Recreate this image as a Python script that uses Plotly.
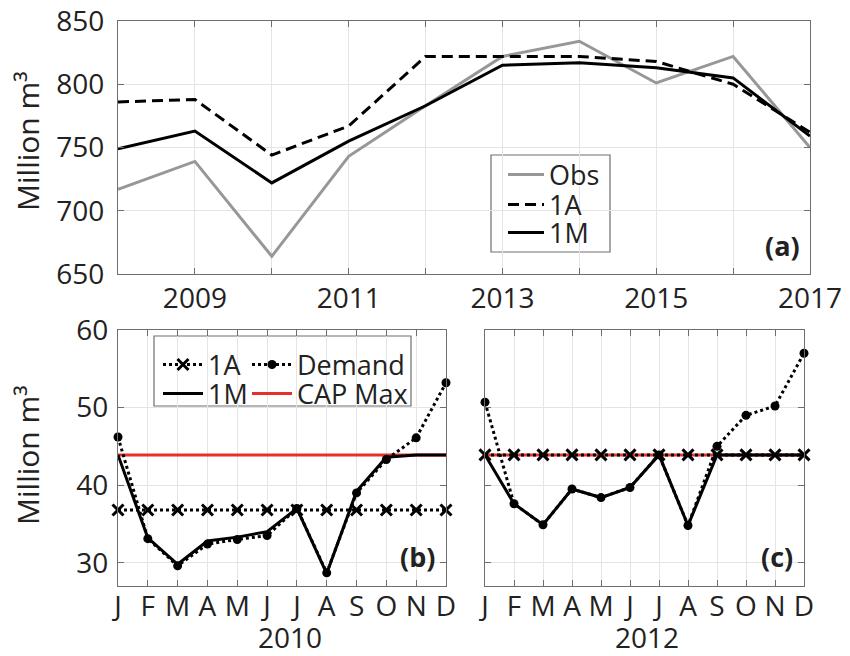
import plotly.graph_objects as go

# ---- annual storage, panel (a) ----
years = [2008, 2009, 2010, 2011, 2012, 2013, 2014, 2015, 2016, 2017]
year_labels = ["", "2009", "", "2011", "", "2013", "", "2015", "", "2017"]
obs = [717, 739, 664, 743, 783, 822, 834, 801, 822, 750]
sim_1a = [786, 788, 744, 767, 822, 822, 822, 818, 800, 762]
sim_1m = [749, 763, 722, 755, 783, 815, 817, 813, 805, 759]

# ---- monthly allocations, panels (b) 2010 and (c) 2012 ----
months = [1, 2, 3, 4, 5, 6, 7, 8, 9, 10, 11, 12]
month_labels = ["J", "F", "M", "A", "M", "J", "J", "A", "S", "O", "N", "D"]

demand_2010 = [46.2, 33.1, 29.6, 32.4, 33.0, 33.5, 37.0, 28.7, 39.0, 43.3, 46.1, 53.2]
m1_2010 = [43.9, 33.2, 29.8, 32.8, 33.3, 34.0, 37.0, 28.6, 39.2, 43.6, 43.9, 43.9]
a1_2010 = [36.8, 36.8, 36.8, 36.8, 36.8, 36.8, 36.8, 36.8, 36.8, 36.8, 36.8, 36.8]

demand_2012 = [50.7, 37.6, 34.9, 39.5, 38.4, 39.7, 43.9, 34.8, 45.0, 49.0, 50.2, 57.0]
m1_2012 = [43.9, 37.6, 34.9, 39.5, 38.4, 39.7, 43.9, 34.8, 43.9, 43.9, 43.9, 43.9]
a1_2012 = [43.9, 43.9, 43.9, 43.9, 43.9, 43.9, 43.9, 43.9, 43.9, 43.9, 43.9, 43.9]

cap_max = [43.9, 43.9, 43.9, 43.9, 43.9, 43.9, 43.9, 43.9, 43.9, 43.9, 43.9, 43.9]

W, H = 850, 656
FONT = "Open Sans"
TXT = "#222222"
AX = "#6e6e6e"
GRID = "#e4e4e4"
GRAY = "#979797"
RED = "#e8302a"


def px(x):
    return x / W


def py(y):
    return 1 - y / H


fig = go.Figure()

# panel (a)
fig.add_trace(go.Scatter(x=years, y=obs, name="Obs", mode="lines",
                         line=dict(color=GRAY, width=3), legend="legend",
                         xaxis="x", yaxis="y"))
fig.add_trace(go.Scatter(x=years, y=sim_1a, name="1A", mode="lines",
                         line=dict(color="black", width=3, dash="11px,6px"),
                         legend="legend2", xaxis="x", yaxis="y"))
fig.add_trace(go.Scatter(x=years, y=sim_1m, name="1M", mode="lines",
                         line=dict(color="black", width=3), legend="legend3",
                         xaxis="x", yaxis="y"))

# panels (b) and (c)
for xa, ya, dem, m1, a1, show in [("x2", "y2", demand_2010, m1_2010, a1_2010, True),
                                  ("x3", "y3", demand_2012, m1_2012, a1_2012, False)]:
    fig.add_trace(go.Scatter(x=months, y=cap_max, name="CAP Max", mode="lines",
                             line=dict(color=RED, width=3), legend="legend7",
                             showlegend=show, xaxis=xa, yaxis=ya))
    fig.add_trace(go.Scatter(x=months, y=dem, name="Demand", mode="lines+markers",
                             line=dict(color="black", width=3, dash="dot"),
                             marker=dict(symbol="circle", size=9, color="black"),
                             legend="legend5", showlegend=show,
                             cliponaxis=False, xaxis=xa, yaxis=ya))
    fig.add_trace(go.Scatter(x=months, y=m1, name="1M", mode="lines",
                             line=dict(color="black", width=3), legend="legend6",
                             showlegend=show, xaxis=xa, yaxis=ya))
    fig.add_trace(go.Scatter(x=months, y=a1, name="1A", mode="lines+markers",
                             line=dict(color="black", width=3, dash="dot"),
                             marker=dict(symbol="x-thin", size=11,
                                         line=dict(color="black", width=3)),
                             legend="legend4", showlegend=show,
                             cliponaxis=False, xaxis=xa, yaxis=ya))

axis_common = dict(showline=True, linecolor=AX, linewidth=1.2, mirror="ticks",
                   ticks="inside", ticklen=6, tickcolor=AX, tickwidth=1,
                   showgrid=True, gridcolor=GRID, gridwidth=1, zeroline=False,
                   automargin=False,
                   tickfont=dict(family=FONT, size=28, color=TXT))

dom_a_x = [px(118), px(810)]
dom_a_y = [py(274), py(21)]
dom_b_x = [px(118), px(446)]
dom_c_x = [px(485), px(804)]
dom_bc_y = [py(586), py(330)]

fig.update_layout(
    width=W, height=H,
    margin=dict(l=0, r=0, t=0, b=0, pad=0, autoexpand=False),
    paper_bgcolor="white", plot_bgcolor="white",
    showlegend=True,
    font=dict(family=FONT, size=27, color=TXT),
    xaxis=dict(axis_common, domain=dom_a_x, range=[2008, 2017],
               tickvals=years, ticktext=year_labels, anchor="y",
               ticklabelstandoff=-1),
    yaxis=dict(axis_common, domain=dom_a_y, range=[650, 850],
               tickvals=[650, 700, 750, 800, 850], anchor="x",
               ticklabelstandoff=7),
    xaxis2=dict(axis_common, domain=dom_b_x, range=[1, 12],
                tickvals=months, ticktext=month_labels, anchor="y2",
                ticklabelstandoff=-5),
    yaxis2=dict(axis_common, domain=dom_bc_y, range=[27, 60],
                tickvals=[30, 40, 50, 60], anchor="x2", ticklabelstandoff=3),
    xaxis3=dict(axis_common, domain=dom_c_x, range=[1, 12],
                tickvals=months, ticktext=month_labels, anchor="y3",
                ticklabelstandoff=-5),
    yaxis3=dict(axis_common, domain=dom_bc_y, range=[27, 60],
                tickvals=[30, 40, 50, 60], showticklabels=False, anchor="x3"),
)

leg_common = dict(bgcolor="rgba(0,0,0,0)", borderwidth=0, itemwidth=36,
                  font=dict(family=FONT, size=27, color=TXT),
                  xanchor="left", yanchor="middle", itemclick=False,
                  visible=True)
fig.update_layout(
    legend=dict(leg_common, x=px(503), y=py(175)),
    legend2=dict(leg_common, x=px(503), y=py(205)),
    legend3=dict(leg_common, x=px(503), y=py(233)),
    legend4=dict(leg_common, x=px(158), y=py(365), itemwidth=40),
    legend5=dict(leg_common, x=px(247), y=py(365), itemwidth=40),
    legend6=dict(leg_common, x=px(158), y=py(394), itemwidth=40),
    legend7=dict(leg_common, x=px(247), y=py(394), itemwidth=40),
)

# legend frames
fig.add_shape(type="rect", xref="paper", yref="paper",
              x0=px(491), x1=px(610), y0=py(252), y1=py(155),
              line=dict(color=AX, width=1.2), fillcolor="white", layer="below")
fig.add_shape(type="rect", xref="paper", yref="paper",
              x0=px(154), x1=px(411), y0=py(406), y1=py(336),
              line=dict(color=AX, width=1.2), fillcolor="white", layer="below")

# axis titles and panel tags
for yc in (141, 455):
    fig.add_annotation(text="Million m³", x=px(27), y=py(yc), xref="paper",
                       yref="paper", xanchor="center", yanchor="middle",
                       textangle=-90, showarrow=False,
                       font=dict(family=FONT, size=30, color=TXT))
for label, xc in (("2010", 290), ("2012", 647)):
    fig.add_annotation(text=label, x=px(xc), y=py(637), xref="paper",
                       yref="paper", xanchor="center", yanchor="middle",
                       showarrow=False,
                       font=dict(family=FONT, size=28, color=TXT))
for tag, xr, yr, dx, dy in (("(a)", "x domain", "y domain", 0.988, 0.111),
                            ("(b)", "x2 domain", "y2 domain", 0.973, 0.117),
                            ("(c)", "x3 domain", "y3 domain", 0.972, 0.117)):
    fig.add_annotation(text="<b>" + tag + "</b>", x=dx, y=dy, xref=xr, yref=yr,
                       xanchor="right", yanchor="middle", showarrow=False,
                       font=dict(family=FONT, size=27, color=TXT))

fig.write_html("out.html")
